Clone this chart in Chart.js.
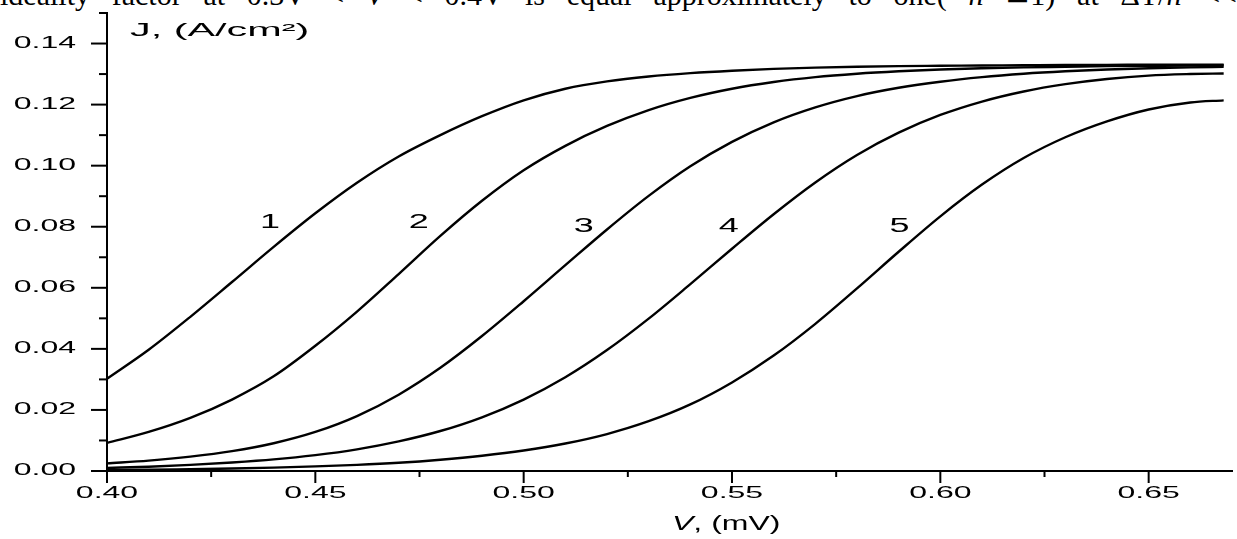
<!DOCTYPE html>
<html>
<head>
<meta charset="utf-8">
<script src="https://cdn.jsdelivr.net/npm/chart.js@4.4.1/dist/chart.umd.min.js"></script>
<style>
html, body { margin: 0; padding: 0; background: #fff; overflow: hidden; }
#wrap { position: relative; width: 1237px; height: 539px; overflow: hidden; }
#cap {
    position: absolute; left: 0; top: -20px; width: 1237px;
    font: 30px "Liberation Serif", "Times New Roman", serif; line-height: 30px;
    text-align: justify; text-align-last: justify; color: #000;
}
#chart { position: absolute; left: 0; top: 0; }
</style>
</head>
<body>
<div id="wrap">
<div id="cap">ideality factor at 0.3V &lt; <i>V</i> &lt; 0.4V is equal approximately to one( <i>n</i> ≅1) at ΔT/<i>n</i> &lt;&lt;</div>
<canvas id="chart" width="1237" height="539"></canvas>
</div>
<script>
// voltage grid, V
const vArr = [0.40, 0.41, 0.42, 0.43, 0.44, 0.45, 0.46, 0.47, 0.48, 0.49,
              0.50, 0.51, 0.52, 0.53, 0.54, 0.55, 0.56, 0.57, 0.58, 0.59,
              0.60, 0.61, 0.62, 0.63, 0.64, 0.65, 0.66, 0.668]

// current density J, A/cm2
const curve1 = [0.0302, 0.0397, 0.0505, 0.0619, 0.0734, 0.0844, 0.0944, 0.1030, 0.1100, 0.1162,
                0.1214, 0.1252, 0.1276, 0.1292, 0.1303, 0.1311, 0.1317, 0.1321, 0.1324, 0.1326,
                0.1327, 0.1328, 0.1329, 0.1330, 0.1330, 0.1331, 0.1331, 0.1331]
const curve2 = [0.0092, 0.0128, 0.0174, 0.0234, 0.0310, 0.0410, 0.0522, 0.0645, 0.0770, 0.0885,
                0.0985, 0.1065, 0.1130, 0.1182, 0.1222, 0.1252, 0.1274, 0.1290, 0.1301, 0.1309,
                0.1315, 0.1319, 0.1322, 0.1324, 0.1326, 0.1327, 0.1328, 0.1329]
const curve3 = [0.0025, 0.0034, 0.0047, 0.0065, 0.0091, 0.0128, 0.0180, 0.0250, 0.0338, 0.0442,
                0.0556, 0.0674, 0.0791, 0.0901, 0.0998, 0.1078, 0.1142, 0.1191, 0.1228, 0.1255,
                0.1275, 0.1290, 0.1301, 0.1309, 0.1315, 0.1319, 0.1322, 0.1324]
const curve4 = [0.0010, 0.0014, 0.0020, 0.0028, 0.0038, 0.0052, 0.0071, 0.0097, 0.0131, 0.0176,
                0.0234, 0.0307, 0.0396, 0.0499, 0.0612, 0.0728, 0.0841, 0.0945, 0.1035, 0.1108,
                0.1166, 0.1210, 0.1243, 0.1267, 0.1284, 0.1295, 0.1300, 0.1302]
const curve5 = [0.0003, 0.0004, 0.0006, 0.0008, 0.0011, 0.0015, 0.0020, 0.0027, 0.0037, 0.0050,
                0.0067, 0.0090, 0.0121, 0.0163, 0.0218, 0.0290, 0.0378, 0.0482, 0.0598, 0.0718,
                0.0834, 0.0938, 0.1025, 0.1093, 0.1145, 0.1184, 0.1207, 0.1214]

// curve numbers and where they sit (data coords)
const curveNames = ['1', '2', '3', '4', '5']
const nameV = [0.4391, 0.4748, 0.5144, 0.5492, 0.5902]
const nameJ = [0.0815, 0.0815, 0.0800, 0.0800, 0.0800]

const xTickLabels = ['0.40', '0.45', '0.50', '0.55', '0.60', '0.65']
const yTickLabels = ['0.00', '0.02', '0.04', '0.06', '0.08', '0.10', '0.12', '0.14']

const SANS = '"Liberation Sans", Arial, sans-serif'

function stretchText(ctx, text, x, y, sx, align){
    ctx.save()
    ctx.translate(x, y)
    ctx.scale(sx, 1)
    ctx.textAlign = align
    ctx.fillText(text, 0, 0)
    ctx.restore()
}

const near = (a, b) => Math.abs(a - b) < 1e-6

const axisDeco = {
    id: 'axisDeco',
    afterDraw(chart){
        const ctx = chart.ctx
        const xs = chart.scales.x, ys = chart.scales.y
        const area = chart.chartArea
        ctx.save()
        ctx.strokeStyle = '#000'
        ctx.fillStyle = '#000'
        ctx.lineWidth = 2

        // x ticks, major every 0.05, minor between
        xs.ticks.forEach(t => {
            const k = (t.value - 0.40) / 0.025
            if (!near(k, Math.round(k))) return
            const major = Math.round(k) % 2 === 0
            const px = xs.getPixelForValue(t.value)
            ctx.beginPath()
            ctx.moveTo(px, area.bottom)
            ctx.lineTo(px, area.bottom + (major ? 12 : 6))
            ctx.stroke()
        })
        // y ticks, major every 0.02
        ys.ticks.forEach(t => {
            const k = t.value / 0.01
            if (!near(k, Math.round(k))) return
            const major = Math.round(k) % 2 === 0
            const py = ys.getPixelForValue(t.value)
            ctx.beginPath()
            ctx.moveTo(area.left, py)
            ctx.lineTo(area.left - (major ? 16 : 8), py)
            ctx.stroke()
        })

        ctx.font = '16px ' + SANS
        ctx.textBaseline = 'middle'
        xTickLabels.forEach(s => {
            stretchText(ctx, s, xs.getPixelForValue(parseFloat(s)), area.bottom + 23, 2.0, 'center')
        })
        yTickLabels.forEach(s => {
            stretchText(ctx, s, area.left - 31, ys.getPixelForValue(parseFloat(s)), 2.0, 'right')
        })

        // curve numbers
        ctx.font = '20px ' + SANS
        curveNames.forEach((s, i) => {
            stretchText(ctx, s, xs.getPixelForValue(nameV[i]), ys.getPixelForValue(nameJ[i]), 1.8, 'center')
        })

        // axis titles
        ctx.textBaseline = 'alphabetic'
        ctx.font = '18px ' + SANS
        stretchText(ctx, 'J, (A/cm²)', area.left + 23, area.top + 23, 2.3, 'left')

        const titleY = area.bottom + 59
        ctx.font = 'italic 20px ' + SANS
        const vW = ctx.measureText('V').width * 1.6
        const x0 = area.left + 565
        stretchText(ctx, 'V', x0, titleY, 1.6, 'left')
        ctx.font = '20px ' + SANS
        stretchText(ctx, ', (mV)', x0 + vW, titleY, 1.6, 'left')
        ctx.restore()
    }
}

function makeSet(vals){
    return {
        data: vArr.map((v, i) => ({x: v, y: vals[i]})),
        borderColor: '#000',
        borderWidth: 2.4,
        pointRadius: 0,
        fill: false,
        cubicInterpolationMode: 'monotone'
    }
}

const ctx = document.getElementById('chart').getContext('2d')
const myChart = new Chart(ctx, {
    type: 'line',
    data: {
        datasets: [makeSet(curve1), makeSet(curve2), makeSet(curve3), makeSet(curve4), makeSet(curve5)]
    },
    options: {
        responsive: false,
        animation: false,
        layout: { padding: { left: 107, right: 5, top: 13, bottom: 68 } },
        plugins: { legend: { display: false }, tooltip: { enabled: false } },
        scales: {
            x: {
                type: 'linear', min: 0.40, max: 0.67,
                ticks: { display: false, stepSize: 0.025 },
                grid: { display: false },
                border: { display: true, color: '#000', width: 2 },
                afterFit: s => { s.height = 0 }
            },
            y: {
                min: 0, max: 0.15,
                ticks: { display: false, stepSize: 0.01 },
                grid: { display: false },
                border: { display: true, color: '#000', width: 2 },
                afterFit: s => { s.width = 0 }
            }
        }
    },
    plugins: [axisDeco]
})
</script>
</body>
</html>
